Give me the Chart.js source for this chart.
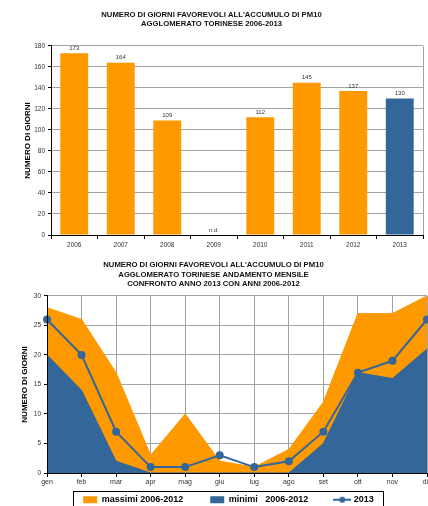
<!DOCTYPE html>
<html><head><meta charset="utf-8">
<script src="https://cdn.jsdelivr.net/npm/chart.js@4/dist/chart.umd.min.js"></script>
<style>
html,body{margin:0;padding:0;background:#fff;overflow:hidden;width:428px;height:506px;position:relative;}
#c1{position:absolute;left:0;top:0;}
#c2{position:absolute;left:0;top:250px;}
</style></head><body>
<canvas id="c1" width="428" height="250"></canvas>
<canvas id="c2" width="440" height="285"></canvas>
<script>
// ---- data ----
const years = ['2006','2007','2008','2009','2010','2011','2012','2013'];
const yearlyDays = [173, 164, 109, null, 112, 145, 137, 130];
const missingLabel = 'n.d.';
const months = ['gen','feb','mar','apr','mag','giu','lug','ago','set','ott','nov','dic'];
const massimi = [28, 26, 17, 3, 10, 2, 1, 4, 12, 27, 27, 30];
const minimi  = [20, 14, 2, 0, 0, 0, 0, 0, 5, 17, 16, 21];
const anno2013 = [26, 20, 7, 1, 1, 3, 1, 2, 7, 17, 19, 26];
const seriesNames = ['massimi 2006-2012', 'minimi   2006-2012', '2013'];

const ORANGE = '#FF9900', BLUE = '#336699', GRID = '#a3a3a3';
const FONT = "'Liberation Sans', Arial, sans-serif";
Chart.defaults.font.family = FONT;
Chart.defaults.color = '#333';
Chart.defaults.animation = false;

// ---- chart 1 : bars ----
const barLabels = {
  id: 'barLabels',
  afterDatasetsDraw(chart) {
    const ctx = chart.ctx, xs = chart.scales.x, ys = chart.scales.y;
    ctx.save();
    ctx.font = '6px ' + FONT;
    ctx.fillStyle = '#333';
    ctx.textAlign = 'center';
    ctx.textBaseline = 'bottom';
    yearlyDays.forEach((v, i) => {
      const x = xs.getPixelForValue(i);
      const y = ys.getPixelForValue(v == null ? 0 : v) - 2;
      ctx.fillText(v == null ? missingLabel : String(v), x, y);
    });
    ctx.restore();
  }
};
const frame1 = {
  id: 'frame1',
  beforeDatasetsDraw(chart) {
    const {ctx, chartArea: a} = chart;
    ctx.save();
    ctx.strokeStyle = GRID; ctx.lineWidth = 1;
    ctx.beginPath();
    ctx.moveTo(Math.round(a.right) + 0.5, a.top);
    ctx.lineTo(Math.round(a.right) + 0.5, a.bottom);
    ctx.stroke();
    ctx.restore();
  }
};

new Chart(document.getElementById('c1'), {
  type: 'bar',
  data: {
    labels: years,
    datasets: [{
      data: yearlyDays,
      backgroundColor: years.map((y, i) => i === years.length - 1 ? BLUE : ORANGE),
      categoryPercentage: 1,
      barPercentage: 0.6
    }]
  },
  options: {
    responsive: false,
    layout: {padding: {left: 0, right: 5, top: 0, bottom: 0}},
    plugins: {
      legend: {display: false},
      tooltip: {enabled: false},
      title: {
        display: true,
        text: ["NUMERO DI GIORNI FAVOREVOLI ALL'ACCUMULO DI PM10", 'AGGLOMERATO TORINESE 2006-2013'],
        color: '#111',
        font: {size: 7.7, weight: 'bold', lineHeight: 1.2},
        padding: {top: 10.4, bottom: 17}
      }
    },
    scales: {
      x: {
        offset: true,
        grid: {drawOnChartArea: false, offset: true, tickColor: '#000', tickLength: 4},
        border: {color: '#000', width: 1},
        ticks: {font: {size: 6.5}, color: '#333', padding: 2, maxRotation: 0},
        afterFit(s) { s.height = 15; }
      },
      y: {
        min: 0, max: 180,
        ticks: {stepSize: 20, font: {size: 6.5}, color: '#333', padding: 3},
        grid: {color: GRID, tickColor: '#000', tickLength: 3},
        border: {color: '#000', width: 1},
        title: {display: true, text: 'NUMERO DI GIORNI', color: '#000', font: {size: 8, weight: 'bold'}, padding: {top: 23, bottom: 0}},
        afterFit(s) { s.width = 51; }
      }
    }
  },
  plugins: [barLabels, frame1]
});

// ---- chart 2 : monthly areas + line ----
const mk = document.createElement('canvas');
mk.width = 18; mk.height = 8;
(function(){
  const c = mk.getContext('2d');
  c.strokeStyle = BLUE; c.lineWidth = 2;
  c.beginPath(); c.moveTo(0, 4); c.lineTo(18, 4); c.stroke();
  c.fillStyle = BLUE; c.beginPath(); c.arc(9, 4, 3, 0, Math.PI * 2); c.fill();
})();

const LEGEND_CX = 228.5, LEGEND_TEXT_CY = 250.6, LEGEND_BOX = {x: 73.5, y: 241.5, w: 310, h: 30};
const legendPlace = {
  id: 'legendPlace',
  afterLayout(chart) {
    const lg = chart.legend;
    if (!lg) return;
    const dx = LEGEND_CX - (lg.left + lg.right) / 2;
    lg.left += dx; lg.right += dx;
    const p = lg.options.labels.padding;
    const ih = lg._itemHeight || 10.8;
    lg.top = LEGEND_TEXT_CY - p - ih / 2;
  },
  afterDatasetsDraw(chart) {
    // re-stroke axis lines over the filled areas
    const {ctx, chartArea: a} = chart;
    ctx.save();
    ctx.strokeStyle = '#000'; ctx.lineWidth = 1;
    ctx.beginPath();
    ctx.moveTo(Math.round(a.left) + 0.5, a.top);
    ctx.lineTo(Math.round(a.left) + 0.5, a.bottom);
    ctx.moveTo(a.left, Math.round(a.bottom) + 0.5);
    ctx.lineTo(a.right, Math.round(a.bottom) + 0.5);
    ctx.stroke();
    ctx.restore();
  },
  afterDraw(chart) {
    const ctx = chart.ctx;
    ctx.save();
    ctx.strokeStyle = '#000'; ctx.lineWidth = 1;
    ctx.strokeRect(LEGEND_BOX.x, LEGEND_BOX.y, LEGEND_BOX.w, LEGEND_BOX.h);
    ctx.restore();
  }
};

new Chart(document.getElementById('c2'), {
  type: 'line',
  data: {
    labels: months,
    datasets: [
      {label: seriesNames[0], data: massimi, fill: 'origin', backgroundColor: ORANGE, borderColor: ORANGE, borderWidth: 1, pointRadius: 0, tension: 0, order: 3, pointStyle: 'rect'},
      {label: seriesNames[1], data: minimi, fill: 'origin', backgroundColor: BLUE, borderColor: BLUE, borderWidth: 1, pointRadius: 0, tension: 0, order: 2, pointStyle: 'rect'},
      {label: seriesNames[2], data: anno2013, fill: false, backgroundColor: BLUE, borderColor: BLUE, borderWidth: 2, pointRadius: 3, pointBackgroundColor: BLUE, pointBorderColor: BLUE, tension: 0, order: 1, clip: false}
    ]
  },
  options: {
    responsive: false,
    layout: {padding: {left: 0, right: 13, top: 0, bottom: 0}},
    plugins: {
      tooltip: {enabled: false},
      title: {
        display: true,
        text: ["NUMERO DI GIORNI FAVOREVOLI ALL'ACCUMULO DI PM10", 'AGGLOMERATO TORINESE ANDAMENTO MENSILE', 'CONFRONTO ANNO 2013 CON ANNI 2006-2012'],
        color: '#111',
        font: {size: 7.7, weight: 'bold', lineHeight: 1.25},
        padding: {top: 10, bottom: 7}
      },
      legend: {
        position: 'bottom',
        labels: {
          usePointStyle: true,
          pointStyleWidth: 14,
          boxHeight: 7,
          padding: 27,
          color: '#000',
          font: {size: 9, weight: 'bold'},
          generateLabels(chart) {
            const items = Chart.defaults.plugins.legend.labels.generateLabels(chart);
            items.sort((a, b) => a.datasetIndex - b.datasetIndex);
            items.forEach(it => {
              if (it.datasetIndex === 2) { it.pointStyle = mk; }
              else { it.pointStyle = 'rect'; it.lineWidth = 0; }
            });
            return items;
          }
        }
      }
    },
    scales: {
      x: {
        offset: false,
        grid: {color: GRID, tickColor: '#000', tickLength: 4},
        border: {color: '#000', width: 1},
        ticks: {font: {size: 7}, color: '#333', padding: 1, maxRotation: 0, autoSkip: false},
        afterFit(s) { s.height = 16; }
      },
      y: {
        min: 0, max: 30,
        ticks: {stepSize: 5, font: {size: 6.5}, color: '#333', padding: 3},
        grid: {color: GRID, tickColor: '#000', tickLength: 3},
        border: {color: '#000', width: 1},
        title: {display: true, text: 'NUMERO DI GIORNI', color: '#000', font: {size: 8, weight: 'bold'}, padding: {top: 20, bottom: 0}},
        afterFit(s) { s.width = 47; }
      }
    }
  },
  plugins: [legendPlace]
});
</script>
</body></html>
